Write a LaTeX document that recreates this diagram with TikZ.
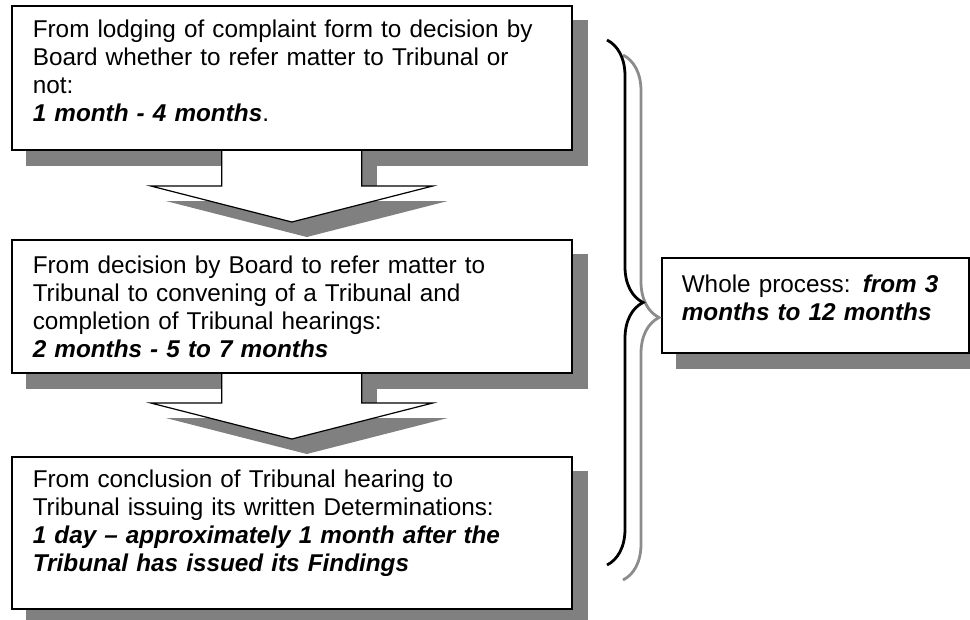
\documentclass[tikz,border=0pt]{standalone}
\usepackage{fontspec}
\setmainfont{Liberation Sans}
\usetikzlibrary{calc,decorations.pathreplacing}
\pgfdeclarelayer{back}
\pgfdeclarelayer{mid}
\pgfsetlayers{back,mid,main}

% block arrow from box #1 down to box #2, shifted by #3
\newcommand{\bigarrow}[3]{($(#1.south)+(-70+#3,-5+#3)$) -- ($(#2.north)+(-70+#3,-53+#3)$)
  -- ($(#2.north)+(-141+#3,-53+#3)$) -- ($(#2.north)+(#3,-17+#3)$)
  -- ($(#2.north)+(141+#3,-53+#3)$) -- ($(#2.north)+(70+#3,-53+#3)$)
  -- ($(#1.south)+(70+#3,-5+#3)$) -- cycle}
\newcommand{\bfit}[1]{{\bfseries\itshape #1}}

\begin{document}
\begin{tikzpicture}[x=1pt,y=-1pt,
    stagebox/.style={draw,fill=white,line width=1.6pt,anchor=north west,inner xsep=21pt,inner ysep=0pt,
      text width=518pt,align=left,font=\fontsize{24.3}{28}\selectfont},
    boxshadow/.style={fill=black!50},
    arrowbody/.style={draw,fill=white,line width=1.2pt,line join=miter},
    bracestyle/.style={decorate,decoration={brace,amplitude=36pt},line width=2.8pt}]
  \useasboundingbox (0,0) rectangle (970,619);
  \node[stagebox,text height=32pt,text depth=112pt] (b1) at (11,5)
    {From lodging of complaint form to decision by\\ Board whether to refer matter to Tribunal or\\ not:\\ \bfit{1 month - 4 months}.};
  \node[stagebox,text height=34pt,text depth=99pt] (b2) at (11,239)
    {From decision by Board to refer matter to\\ Tribunal to convening of a Tribunal and\\ completion of Tribunal hearings:\\ \bfit{2 months - 5 to 7 months}};
  \node[stagebox,text height=31pt,text depth=121pt] (b3) at (11,456)
    {From conclusion of Tribunal hearing to\\ Tribunal issuing its written Determinations:\\ \bfit{1 day – approximately 1 month after the\\ Tribunal has issued its Findings}};
  \node[stagebox,text width=267pt,inner xsep=20pt,text height=35pt,text depth=60pt] (total) at (661,257)
    {Whole process: \bfit{from 3\\ months to 12 months}};
  % shadows
  \begin{pgfonlayer}{back}
    \fill[boxshadow] ([shift={(15,15)}]b1.north west) rectangle ([shift={(15,15)}]b1.south east);
    \fill[boxshadow] ([shift={(15,15)}]b2.north west) rectangle ([shift={(15,15)}]b2.south east);
    \fill[boxshadow] ([shift={(15,15)}]b3.north west) rectangle ([shift={(15,15)}]b3.south east);
    \fill[boxshadow] ([shift={(15,15)}]total.north west) rectangle ([shift={(15,15)}]total.south east);
    \fill[boxshadow] \bigarrow{b1}{b2}{15};
    \fill[boxshadow] \bigarrow{b2}{b3}{15};
  \end{pgfonlayer}
  % arrows between the stages
  \begin{pgfonlayer}{mid}
    \path[arrowbody] \bigarrow{b1}{b2}{0};
    \path[arrowbody] \bigarrow{b2}{b3}{0};
  \end{pgfonlayer}
  % brace over all three stages
  \coordinate (bracetop) at (607,40);
  \coordinate (bracebot) at (607,565);
  \draw[bracestyle,black!45] ([shift={(16,15)}]bracetop) -- ([shift={(16,15)}]bracebot);
  \draw[bracestyle] (bracetop) -- (bracebot);
\end{tikzpicture}
\end{document}
